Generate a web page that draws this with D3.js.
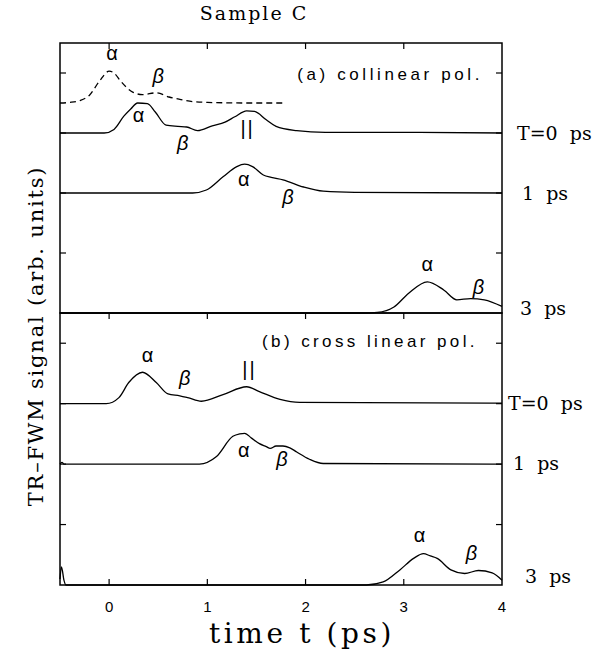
<!DOCTYPE html>
<html>
<head>
<meta charset="utf-8">
<script src="https://cdn.jsdelivr.net/npm/d3@7"></script>
<style>
body { margin:0; background:#fff; }
svg text { white-space: pre; fill:#000; }
</style>
</head>
<body>
<svg id="chart" width="610" height="661"></svg>
<script>
// ---- data (time in ps, signal in arb. units) ----
const xTicks = [0, 1, 2, 3, 4];
const yTickVals = [1, 2, 3, 4];

// panel (a) collinear
const aRefT = [-0.5,-0.4,-0.3,-0.2,-0.1,0.0,0.05,0.12,0.24,0.34,0.48,0.61,0.72,0.82,1.0,1.4,1.8];
const aRefH = [0,0.01,0.04,0.13,0.36,0.53,0.5,0.36,0.18,0.14,0.17,0.1,0.06,0.03,0.01,0,0];

const a0T = [-0.5,-0.05,0.05,0.15,0.22,0.29,0.39,0.47,0.58,0.7,0.79,0.9,1.05,1.18,1.28,1.4,1.48,1.6,1.7,1.91,2.2,3.0,4];
const a0H = [0,0,0.06,0.28,0.4,0.5,0.49,0.35,0.13,0.11,0.1,0.04,0.12,0.18,0.27,0.37,0.36,0.22,0.11,0.04,0.01,0.01,0];

const a1T = [-0.5,0.85,0.99,1.16,1.3,1.38,1.46,1.57,1.65,1.77,1.98,2.18,2.5,4];
const a1H = [0,0,0.05,0.27,0.44,0.48,0.44,0.3,0.26,0.22,0.1,0.03,0.01,0];

const a3T = [-0.5,2.6,2.73,2.9,3.05,3.24,3.41,3.54,3.68,3.82,4];
const a3H = [0,0,0.01,0.1,0.33,0.52,0.38,0.22,0.24,0.22,0.11];

// panel (b) cross linear
const b0T = [-0.5,-0.03,0.1,0.2,0.34,0.48,0.6,0.72,0.8,0.94,1.16,1.4,1.53,1.74,1.94,4];
const b0H = [0,0,0.1,0.35,0.52,0.35,0.16,0.13,0.1,0.04,0.15,0.28,0.2,0.07,0.02,0.01];

const b1T = [-0.5,-0.48,-0.46,0.92,1.09,1.26,1.33,1.38,1.45,1.53,1.6,1.64,1.7,1.77,1.84,1.91,2.04,2.18,4];
const b1H = [0,0.03,0,0,0.12,0.46,0.5,0.51,0.43,0.34,0.29,0.26,0.3,0.3,0.27,0.2,0.08,0.01,0];

const b3T = [-0.5,-0.485,-0.46,-0.44,2.62,2.79,2.96,3.1,3.2,3.27,3.34,3.48,3.62,3.76,3.9,4];
const b3H = [0.1,0.3,0.08,0,0,0.05,0.25,0.44,0.52,0.48,0.44,0.25,0.19,0.24,0.2,0.08];

// vertical offsets (baselines) of each trace, in tick units
const offA = { ref: 3.5, t0: 3, t1: 2, t3: 0 };
const offB = { t0: 3, t1: 2, t3: 0 };

const delayLabels = ["T=0  ps", "1  ps", "3  ps"];
const panelLabels = ["(a) collinear pol.", "(b) cross linear pol."];

// ---- drawing ----
const svg = d3.select("#chart");
const x = d3.scaleLinear().domain([-0.5, 4]).range([60, 502]);
const yA = d3.scaleLinear().domain([0, 4.5]).range([313, 43]);
const yB = d3.scaleLinear().domain([0, 4.5]).range([585, 313]);

const serif = "'DejaVu Serif', 'Liberation Serif', serif";
const sans = "'Liberation Sans', Arial, sans-serif";

function trace(T, H, off, y, dashed) {
  const pts = T.map((t, i) => [t, H[i] + off]);
  const line = d3.line().x(d => x(d[0])).y(d => y(d[1])).curve(d3.curveMonotoneX);
  svg.append("path").attr("d", line(pts)).attr("fill", "none")
    .attr("stroke", "#000").attr("stroke-width", 1.3)
    .attr("stroke-dasharray", dashed ? "6,4" : null);
}

function frame(y, topTicks, bottomTicks) {
  const [y0, y1] = y.range(); // bottom, top
  svg.append("rect").attr("x", x(-0.5)).attr("y", y1).attr("width", x(4) - x(-0.5))
    .attr("height", y0 - y1).attr("fill", "none").attr("stroke", "#000").attr("stroke-width", 1.5);
  const tl = 6;
  const ax = svg.append("g").attr("stroke", "#000").attr("stroke-width", 1.2);
  [0,1,2,3].forEach(v => {
    if (topTicks) ax.append("line").attr("x1", x(v)).attr("x2", x(v)).attr("y1", y1).attr("y2", y1 + tl);
    if (bottomTicks) ax.append("line").attr("x1", x(v)).attr("x2", x(v)).attr("y1", y0).attr("y2", y0 - tl);
  });
  yTickVals.forEach(v => {
    ax.append("line").attr("x1", x(-0.5)).attr("x2", x(-0.5) + tl).attr("y1", y(v)).attr("y2", y(v));
    ax.append("line").attr("x1", x(4)).attr("x2", x(4) - tl).attr("y1", y(v)).attr("y2", y(v));
  });
}

frame(yA, true, false);
frame(yB, true, true);

trace(aRefT, aRefH, offA.ref, yA, true);
trace(a0T, a0H, offA.t0, yA);
trace(a1T, a1H, offA.t1, yA);
trace(a3T, a3H, offA.t3, yA);
trace(b0T, b0H, offB.t0, yB);
trace(b1T, b1H, offB.t1, yB);
trace(b3T, b3H, offB.t3, yB);

// x tick labels
svg.append("g").selectAll("text").data(xTicks).join("text")
  .attr("x", d => x(d)).attr("y", 612).attr("text-anchor", "middle")
  .attr("font-family", sans).attr("font-size", 15).text(d => d);

// axis titles
svg.append("text").attr("x", 302).attr("y", 643).attr("text-anchor", "middle")
  .attr("font-family", serif).attr("font-size", 28).attr("letter-spacing", 3.6).text("time t (ps)");
svg.append("text").attr("transform", "translate(43,336) rotate(-90)").attr("text-anchor", "middle")
  .attr("font-family", serif).attr("font-size", 21).attr("letter-spacing", 1.8).text("TR\u2013FWM signal (arb. units)");
svg.append("text").attr("x", 254).attr("y", 20).attr("text-anchor", "middle")
  .attr("font-family", serif).attr("font-size", 19).attr("letter-spacing", 2).text("Sample C");

// panel labels
svg.append("text").attr("x", 483).attr("y", 80).attr("text-anchor", "end")
  .attr("font-family", sans).attr("font-size", 17).attr("letter-spacing", 3.6).text(panelLabels[0]);
svg.append("text").attr("x", 478).attr("y", 347).attr("text-anchor", "end")
  .attr("font-family", sans).attr("font-size", 17).attr("letter-spacing", 3.4).text(panelLabels[1]);

// delay labels
const delayPos = [[517, yA(offA.t0) + 7], [522, yA(offA.t1) + 7], [520, yA(offA.t3) + 2],
                  [508, yB(offB.t0) + 6], [513, yB(offB.t1) + 6], [525, yB(offB.t3) - 2]];
delayPos.forEach((p, i) => {
  svg.append("text").attr("x", p[0]).attr("y", p[1]).attr("font-family", serif)
    .attr("font-size", 19).text(delayLabels[i % 3]);
});

// peak annotations [text, t, y-value, panel]
const notes = [
  ["\u03b1", 0.03, 4.3, yA], ["\u03b2", 0.5, 3.92, yA],
  ["\u03b1", 0.3, 3.27, yA], ["\u03b2", 0.75, 2.8, yA], ["||", 1.41, 3.05, yA],
  ["\u03b1", 1.37, 2.2, yA], ["\u03b2", 1.82, 1.9, yA],
  ["\u03b1", 3.24, 0.78, yA], ["\u03b2", 3.76, 0.4, yA],
  ["\u03b1", 0.39, 3.78, yB], ["\u03b2", 0.77, 3.4, yB], ["||", 1.43, 3.55, yB],
  ["\u03b1", 1.37, 2.2, yB], ["\u03b2", 1.76, 2.05, yB],
  ["\u03b1", 3.16, 0.8, yB], ["\u03b2", 3.69, 0.5, yB]
];
notes.forEach(n => {
  svg.append("text").attr("x", x(n[1])).attr("y", n[3](n[2])).attr("text-anchor", "middle")
    .attr("dominant-baseline", "middle").attr("fill", "#000")
    .attr("font-family", sans).attr("font-size", 20)
    .attr("font-style", n[0] === "\u03b2" ? "italic" : "normal")
    .attr("letter-spacing", n[0] === "||" ? 2 : 0).text(n[0]);
});
</script>
</body>
</html>
